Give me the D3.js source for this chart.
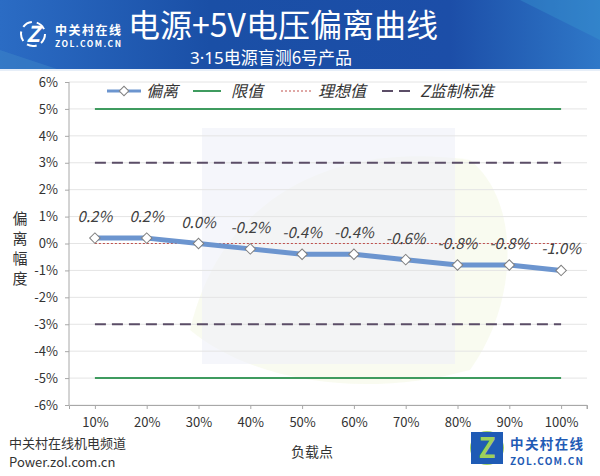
<!DOCTYPE html>
<html><head><meta charset="utf-8">
<script src="https://cdn.jsdelivr.net/npm/d3@7"></script>
<style>body{margin:0;background:#fff}svg{display:block}text{font-family:"Microsoft YaHei","Noto Sans CJK SC",sans-serif}</style>
</head><body>
<svg id="c" width="600" height="476"></svg>
<script>
const categories = ["10%","20%","30%","40%","50%","60%","70%","80%","90%","100%"];
const deviation = [0.2,0.2,0.0,-0.2,-0.4,-0.4,-0.6,-0.8,-0.8,-1.0];
const limitValues = [5,-5];
const idealValue = [0];
const zStandard = [3,-3];
const yTicks = [6,5,4,3,2,1,0,-1,-2,-3,-4,-5,-6];
const legendItems = ["偏离","限值","理想值","Z监制标准"];

(function(){
const svg = d3.select("#c");
const defs = svg.append("defs");
const hg = defs.append("linearGradient").attr("id","hg").attr("x1","0").attr("x2","1");
hg.append("stop").attr("offset","0").attr("stop-color","#2b6cc4");
hg.append("stop").attr("offset","0.35").attr("stop-color","#1a4fa6");
hg.append("stop").attr("offset","0.75").attr("stop-color","#1c4ea8");
hg.append("stop").attr("offset","1").attr("stop-color","#2f78c8");

// header
svg.append("rect").attr("x",0).attr("y",0).attr("width",600).attr("height",70).attr("fill","url(#hg)");
svg.append("path").attr("d","M0,50 L60,70 L0,70Z").attr("fill","#3d86c8").attr("opacity",0.5);
svg.append("path").attr("d","M520,0 L600,0 L600,40Z").attr("fill","#3a9ad0").attr("opacity",0.35);
svg.append("rect").attr("x",0).attr("y",69).attr("width",600).attr("height",2).attr("fill","#e6eef8");
// header logo
svg.append("circle").attr("cx",33).attr("cy",34).attr("r",12).attr("fill","none").attr("stroke","#fff").attr("stroke-width",2).attr("stroke-dasharray","10 5");
svg.append("text").attr("x",33).attr("y",42).attr("text-anchor","middle").attr("fill","#fff").attr("font-size",22).attr("font-weight","bold").attr("font-style","italic").attr("font-family","Liberation Sans, Arial").text("Z");
svg.append("text").attr("x",55).attr("y",35).attr("fill","#fff").attr("font-size",12).attr("font-weight","bold").attr("textLength",66).text("中关村在线");
svg.append("text").attr("x",55).attr("y",47).attr("fill","#fff").attr("font-size",8.5).attr("font-weight","bold").attr("textLength",66).attr("font-family","Liberation Sans, Arial").text("ZOL.COM.CN");
svg.append("text").attr("x",283).attr("y",37).attr("text-anchor","middle").attr("fill","#fff").attr("font-size",32).text("电源+5V电压偏离曲线");
const st = svg.append("text").attr("x",271).attr("y",64).attr("text-anchor","middle").attr("fill","#fff").attr("font-size",17);
st.append("tspan").attr("font-family","'Noto Sans', 'Open Sans', sans-serif").text("3·15");
st.append("tspan").text("电源盲测6号产品");

// plot
const pLeft = 69, pRight = 587, pTop = 82, pBottom = 405;
const x = d3.scalePoint().domain(categories).range([pLeft, pRight]).padding(0.5);
const y = d3.scaleLinear().domain([-6,6]).range([pBottom, pTop]);

// watermark
svg.append("path").attr("d","M190,330 C220,200 330,140 470,160 C520,200 520,300 470,370 C360,400 250,380 190,330Z").attr("fill","#f6f9ea").attr("opacity",0.7);
svg.append("rect").attr("x",202).attr("y",128).attr("width",253).attr("height",236).attr("fill","#eef0f8").attr("opacity",0.6);

// grid
svg.append("g").selectAll("line").data(yTicks).join("line")
  .attr("x1",pLeft).attr("x2",pRight).attr("y1",d=>y(d)).attr("y2",d=>y(d))
  .attr("stroke","#e4e4e4").attr("stroke-width",1);

// axes
const yAxis = svg.append("g").attr("transform",`translate(${pLeft},0)`)
  .call(d3.axisLeft(y).tickValues(yTicks).tickFormat(d=>d+"%").tickSize(4).tickPadding(7));
const xAxis = svg.append("g").attr("transform",`translate(0,${pBottom})`)
  .call(d3.axisBottom(x).tickSize(4).tickPadding(9));
[yAxis,xAxis].forEach(g=>{
  g.select(".domain").attr("stroke","#a8a8a8");
  g.selectAll(".tick line").attr("stroke","#a8a8a8");
  g.selectAll(".tick text").attr("fill","#333").attr("font-size",13).attr("font-family","Lato, 'Open Sans', sans-serif");
});
svg.append("line").attr("x1",pRight).attr("x2",pRight).attr("y1",pBottom).attr("y2",pBottom+4).attr("stroke","#a8a8a8");
yAxis.select(".domain").attr("d",`M0,${pTop}V${pBottom}`);

const x0 = x(categories[0]), x1 = x(categories[categories.length-1]);
// limit lines
svg.append("g").selectAll("line").data(limitValues).join("line")
  .attr("x1",x0).attr("x2",x1).attr("y1",d=>y(d)).attr("y2",d=>y(d))
  .attr("stroke","#3f9b5f").attr("stroke-width",2);
svg.append("g").selectAll("line").data(zStandard).join("line")
  .attr("x1",x0).attr("x2",x1).attr("y1",d=>y(d)).attr("y2",d=>y(d))
  .attr("stroke","#5b4d67").attr("stroke-width",2).attr("stroke-dasharray","11 6");
svg.append("g").selectAll("line").data(idealValue).join("line")
  .attr("x1",x0).attr("x2",x1).attr("y1",d=>y(d)).attr("y2",d=>y(d))
  .attr("stroke","#c0504d").attr("stroke-width",1).attr("stroke-dasharray","2 2");

// deviation line
const line = d3.line().x((d,i)=>x(categories[i])).y(d=>y(d));
svg.append("path").datum(deviation).attr("d",line).attr("fill","none")
  .attr("stroke","#6c95cf").attr("stroke-width",5).attr("stroke-linejoin","round");
svg.append("g").selectAll("path").data(deviation).join("path")
  .attr("d",d3.symbol().type(d3.symbolSquare).size(55))
  .attr("transform",(d,i)=>`translate(${x(categories[i])},${y(d)}) rotate(45)`)
  .attr("fill","#fff").attr("stroke","#7f7f7f").attr("stroke-width",1);
svg.append("g").selectAll("text").data(deviation).join("text")
  .attr("x",(d,i)=>x(categories[i])).attr("y",d=>y(d)-16)
  .attr("text-anchor","middle").attr("font-size",15).attr("font-style","italic")
  .attr("fill","#404040").attr("font-family","Lato, 'Open Sans', sans-serif")
  .text(d=>d.toFixed(1)+"%");

// legend
const ly = 91;
const lg = svg.append("g");
lg.append("line").attr("x1",107).attr("x2",141).attr("y1",ly).attr("y2",ly).attr("stroke","#6c95cf").attr("stroke-width",3);
lg.append("path").attr("d",d3.symbol().type(d3.symbolSquare).size(45)).attr("transform",`translate(124,${ly}) rotate(45)`).attr("fill","#fff").attr("stroke","#7f7f7f");
lg.append("line").attr("x1",193).attr("x2",221).attr("y1",ly).attr("y2",ly).attr("stroke","#3f9b5f").attr("stroke-width",2);
lg.append("line").attr("x1",281).attr("x2",311).attr("y1",ly).attr("y2",ly).attr("stroke","#c0504d").attr("stroke-width",1).attr("stroke-dasharray","2 2");
lg.append("line").attr("x1",382).attr("x2",411).attr("y1",ly).attr("y2",ly).attr("stroke","#5b4d67").attr("stroke-width",2).attr("stroke-dasharray","11 6");
const lx = [146,231,318,420];
lg.selectAll("text").data(legendItems).join("text")
  .attr("x",(d,i)=>lx[i]).attr("y",ly+6).attr("font-size",16).attr("font-style","italic").attr("fill","#333").text(d=>d);

// axis titles
svg.append("g").selectAll("text").data(["偏","离","幅","度"]).join("text")
  .attr("x",20).attr("y",(d,i)=>224+i*20).attr("text-anchor","middle").attr("font-size",15).attr("fill","#333").text(d=>d);
svg.append("text").attr("x",312).attr("y",457).attr("text-anchor","middle").attr("font-size",14).attr("fill","#333").text("负载点");

// footer
svg.append("text").attr("x",9).attr("y",448).attr("font-size",13).attr("fill","#333").text("中关村在线机电频道");
svg.append("text").attr("x",9).attr("y",467).attr("font-size",13).attr("fill","#333").attr("font-family","Lato, 'Open Sans', sans-serif").text("Power.zol.com.cn");

// bottom-right logo
const bl = svg.append("g");
bl.append("circle").attr("cx",487).attr("cy",448).attr("r",17).attr("fill","#8dc63f").attr("opacity",0.8);
bl.append("rect").attr("x",471).attr("y",432).attr("width",32).attr("height",32).attr("fill","#1f5bb5");
bl.append("text").attr("x",487).attr("y",458).attr("text-anchor","middle").attr("font-size",28).attr("font-weight","bold").attr("fill","#9ed05a").attr("font-family","Liberation Sans, Arial").text("Z");
bl.append("text").attr("x",510).attr("y",449).attr("font-size",13.5).attr("font-weight","bold").attr("fill","#1f5bb5").attr("textLength",73).text("中关村在线");
bl.append("text").attr("x",510).attr("y",465).attr("font-size",10).attr("font-weight","bold").attr("fill","#1f5bb5").attr("textLength",73).attr("font-family","Liberation Sans, Arial").text("ZOL.COM.CN");
})();
</script>
</body></html>
